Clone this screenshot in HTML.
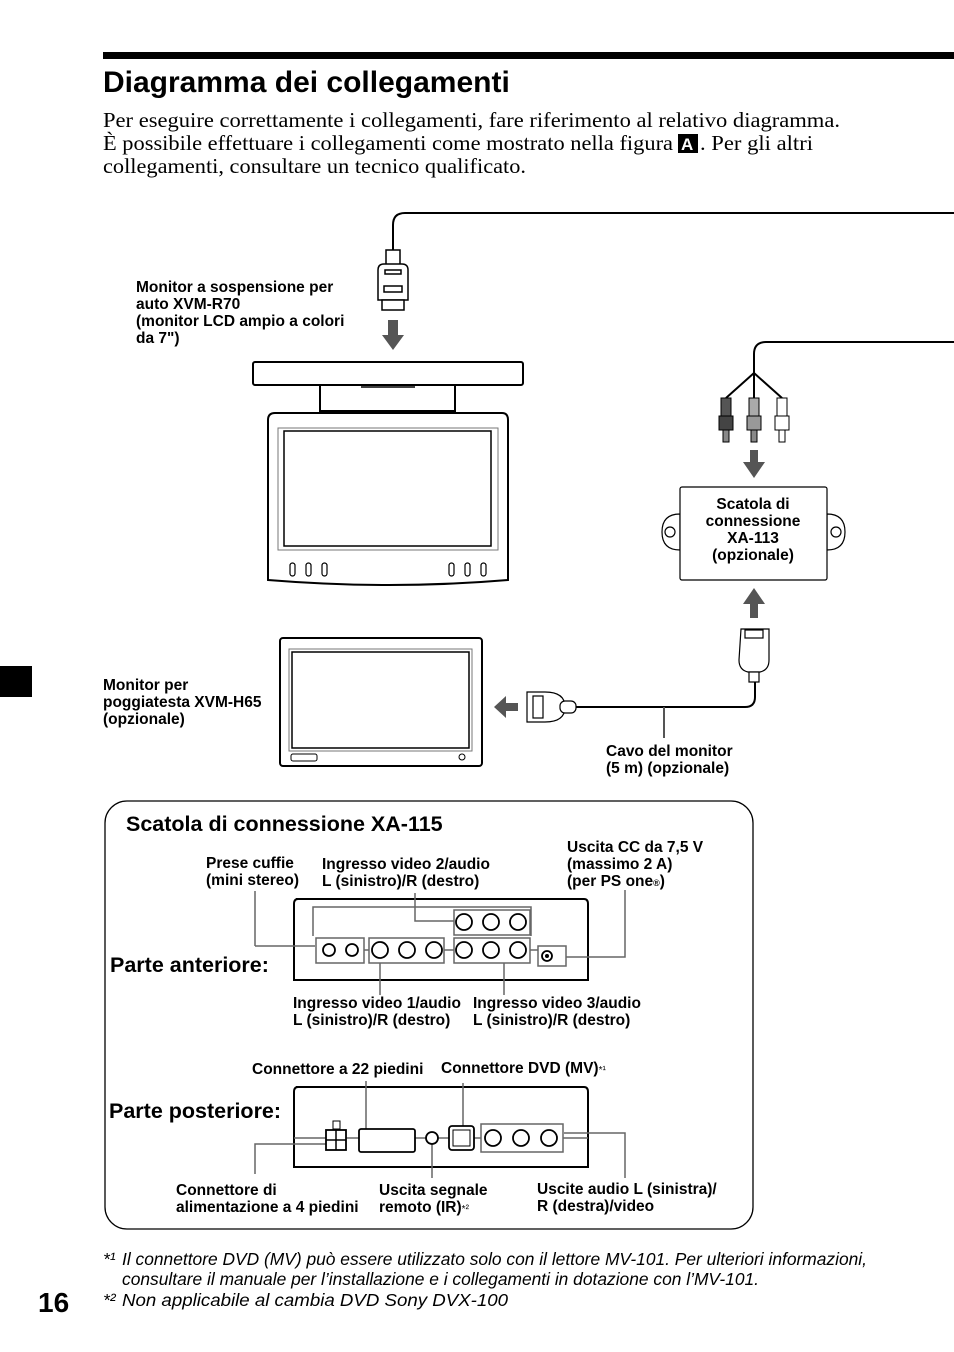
<!DOCTYPE html>
<html><head><meta charset="utf-8"><style>
html,body{margin:0;padding:0;background:#fff}
svg{display:block}
.b{font-family:"Liberation Sans",sans-serif;font-weight:bold;font-size:15.5px;fill:#000}
.h{font-family:"Liberation Sans",sans-serif;font-weight:bold;font-size:21.5px;fill:#000}
.s{font-family:"Liberation Serif",serif;font-size:21px;fill:#000}
.i{font-family:"Liberation Sans",sans-serif;font-style:italic;font-size:17.5px;fill:#000}
</style></head><body>
<svg width="954" height="1352" viewBox="0 0 954 1352" xmlns="http://www.w3.org/2000/svg">
<rect x="103" y="52" width="851" height="7" fill="#000"/>
<text x="103" y="92" font-family="Liberation Sans,sans-serif" font-weight="bold" font-size="30">Diagramma dei collegamenti</text>
<text class="s" x="103" y="127" textLength="737" lengthAdjust="spacingAndGlyphs">Per eseguire correttamente i collegamenti, fare riferimento al relativo diagramma.</text>
<text class="s" x="103" y="150" textLength="570" lengthAdjust="spacingAndGlyphs">È possibile effettuare i collegamenti come mostrato nella figura</text>
<rect x="678" y="134" width="20" height="19" fill="#000"/>
<text x="681" y="150" font-family="Liberation Sans,sans-serif" font-weight="bold" font-size="17" fill="#fff">A</text>
<text class="s" x="700" y="150" textLength="113" lengthAdjust="spacingAndGlyphs">. Per gli altri</text>
<text class="s" x="103" y="173" textLength="423" lengthAdjust="spacingAndGlyphs">collegamenti, consultare un tecnico qualificato.</text>
<rect x="0" y="666" width="32" height="31" fill="#000"/>

<g fill="none" stroke="#000" stroke-width="2">
<path d="M954 213 H405 Q393 213 393 225 V250"/>
<path d="M954 342 H766 Q754 342 754 354 V373"/>
<path d="M754 373 L726 398 M754 373 V398 M754 373 L782 398"/>
<path d="M575 707 H745 Q755 707 755 697 V672"/>
</g>
<line x1="664" y1="707" x2="664" y2="738" stroke="#555" stroke-width="2"/>

<g fill="#fff" stroke="#000" stroke-width="1.5">
<rect x="386" y="250" width="14" height="15"/>
<path d="M378 270 Q378 264 384 264 H402 Q408 264 408 270 V300 H378 Z"/>
<rect x="385" y="270" width="16" height="4"/>
<rect x="384" y="286" width="18" height="6"/>
<rect x="382" y="300" width="22" height="10"/>
</g>
<polygon points="388,320 398,320 398,335 404,335 393,350 382,335 388,335" fill="#555"/>

<g fill="#fff" stroke="#000" stroke-width="2">
<rect x="253" y="362" width="270" height="23" rx="2"/>
<rect x="320" y="385" width="135" height="26"/>
<path d="M268 420 Q268 413 275 413 H502 Q508 413 508 420 V580 Q390 590 268 580 Z"/>
</g>
<rect x="278" y="428" width="220" height="122" fill="none" stroke="#777" stroke-width="1"/>
<rect x="284" y="431" width="207" height="115" fill="none" stroke="#000" stroke-width="1.5"/>
<line x1="361" y1="387" x2="415" y2="387" stroke="#000" stroke-width="1.5"/>
<g fill="none" stroke="#000" stroke-width="1.2">
<rect x="290" y="563" width="5" height="13" rx="2.5"/><rect x="306" y="563" width="5" height="13" rx="2.5"/><rect x="322" y="563" width="5" height="13" rx="2.5"/>
<rect x="449" y="563" width="5" height="13" rx="2.5"/><rect x="465" y="563" width="5" height="13" rx="2.5"/><rect x="481" y="563" width="5" height="13" rx="2.5"/>
</g>
<text class="b"><tspan x="136" y="292">Monitor a sospensione per</tspan><tspan x="136" y="309">auto XVM-R70</tspan><tspan x="136" y="326">(monitor LCD ampio a colori</tspan><tspan x="136" y="343">da 7")</tspan></text>

<g stroke="#000" stroke-width="1">
<rect x="721" y="398" width="10" height="18" fill="#555"/><rect x="719" y="416" width="14" height="14" fill="#444"/><rect x="723" y="430" width="6" height="12" fill="#888"/>
<rect x="749" y="398" width="10" height="18" fill="#aaa"/><rect x="747" y="416" width="14" height="14" fill="#999"/><rect x="751" y="430" width="6" height="12" fill="#888"/>
<rect x="777" y="398" width="10" height="18" fill="#fff"/><rect x="775" y="416" width="14" height="14" fill="#fff"/><rect x="779" y="430" width="6" height="12" fill="#fff"/>
</g>
<polygon points="750,450 758,450 758,462 765,462 754,478 743,462 750,462" fill="#555"/>
<g fill="#fff" stroke="#000" stroke-width="1.2">
<path d="M680 514 Q662 514 662 532 Q662 550 680 550 Z"/>
<path d="M827 514 Q845 514 845 532 Q845 550 827 550 Z"/>
<circle cx="670" cy="532" r="5"/><circle cx="836" cy="532" r="5"/>
<rect x="680" y="487" width="147" height="93" rx="2"/>
</g>
<text class="b" text-anchor="middle"><tspan x="753" y="509">Scatola di</tspan><tspan x="753" y="526">connessione</tspan><tspan x="753" y="543">XA-113</tspan><tspan x="753" y="560">(opzionale)</tspan></text>
<polygon points="750,618 758,618 758,604 765,604 754,588 743,604 750,604" fill="#555"/>
<g fill="#fff" stroke="#000" stroke-width="1.2">
<path d="M741 629 H769 V660 Q769 670 760 672 H748 Q739 670 739 660 Z"/>
<rect x="745" y="630" width="18" height="8"/>
<rect x="749" y="672" width="10" height="10"/>
</g>
<g fill="#fff" stroke="#000" stroke-width="1.2">
<path d="M527 692 H545 Q565 692 565 707 Q565 722 545 722 H527 Z"/>
<rect x="533" y="696" width="10" height="22"/>
<rect x="560" y="701" width="16" height="12" rx="5"/>
</g>
<polygon points="518,703 518,711 506,711 506,718 494,707 506,696 506,703" fill="#555"/>

<rect x="280" y="638" width="202" height="128" rx="3" fill="#fff" stroke="#000" stroke-width="2"/>
<rect x="289" y="649" width="183" height="102" fill="none" stroke="#777" stroke-width="1"/>
<rect x="292" y="652" width="177" height="96" fill="none" stroke="#000" stroke-width="1.5"/>
<rect x="291" y="754" width="26" height="7" rx="2" fill="none" stroke="#000"/>
<circle cx="462" cy="757" r="3" fill="none" stroke="#000"/>
<text class="b"><tspan x="103" y="690">Monitor per</tspan><tspan x="103" y="707">poggiatesta XVM-H65</tspan><tspan x="103" y="724">(opzionale)</tspan></text>
<text class="b"><tspan x="606" y="756">Cavo del monitor</tspan><tspan x="606" y="773">(5 m) (opzionale)</tspan></text>

<rect x="105" y="801" width="648" height="428" rx="22" fill="none" stroke="#000" stroke-width="1.3"/>
<text class="h" x="126" y="831">Scatola di connessione XA-115</text>
<text class="b"><tspan x="206" y="868">Prese cuffie</tspan><tspan x="206" y="885">(mini stereo)</tspan></text>
<text class="b"><tspan x="322" y="869">Ingresso video 2/audio</tspan><tspan x="322" y="886">L (sinistro)/R (destro)</tspan></text>
<text class="b"><tspan x="567" y="852">Uscita CC da 7,5 V</tspan><tspan x="567" y="869">(massimo 2 A)</tspan><tspan x="567" y="886">(per PS one<tspan font-size="9">®</tspan>)</tspan></text>
<text class="h" x="110" y="972">Parte anteriore:</text>
<text class="b"><tspan x="293" y="1008">Ingresso video 1/audio</tspan><tspan x="293" y="1025">L (sinistro)/R (destro)</tspan></text>
<text class="b"><tspan x="473" y="1008">Ingresso video 3/audio</tspan><tspan x="473" y="1025">L (sinistro)/R (destro)</tspan></text>

<path d="M296 899 H584 Q588 899 588 904 V980 H294 V904 Q294 899 298 899 Z" fill="#fff" stroke="#000" stroke-width="2"/>
<g fill="none" stroke="#666" stroke-width="1.5">
<path d="M313 936 V907 H531 V936"/>
<line x1="255" y1="946" x2="315" y2="946"/>
<rect x="316" y="938" width="48" height="25"/>
<rect x="369" y="938" width="75" height="25"/>
<rect x="454" y="938" width="76" height="25"/>
<rect x="454" y="910" width="76" height="25"/>
<rect x="538" y="946" width="28" height="20"/>
<line x1="364" y1="950" x2="369" y2="950"/><line x1="444" y1="950" x2="454" y2="950"/><line x1="530" y1="950" x2="538" y2="950"/>
<path d="M255 891 V946"/>
<path d="M415 893 V921 H454"/>
<path d="M566 957 H625 V890"/>
<line x1="380" y1="963" x2="380" y2="995"/>
<line x1="504" y1="963" x2="504" y2="995"/>
</g>
<g fill="#fff" stroke="#000" stroke-width="1.8">
<circle cx="329" cy="950" r="6"/><circle cx="352" cy="950" r="6"/>
<circle cx="380" cy="950" r="8"/><circle cx="407" cy="950" r="8"/><circle cx="434" cy="950" r="8"/>
<circle cx="464" cy="950" r="8"/><circle cx="491" cy="950" r="8"/><circle cx="518" cy="950" r="8"/>
<circle cx="464" cy="922" r="8"/><circle cx="491" cy="922" r="8"/><circle cx="518" cy="922" r="8"/>
<circle cx="547" cy="956" r="5"/>
</g>
<circle cx="547" cy="956" r="2" fill="#000"/>

<text class="b" x="252" y="1074">Connettore a 22 piedini</text>
<text class="b" x="441" y="1073">Connettore DVD (MV)<tspan font-size="10" font-weight="normal">*¹</tspan></text>
<text class="h" x="109" y="1118">Parte posteriore:</text>
<path d="M296 1087 H584 Q588 1087 588 1092 V1167 H294 V1092 Q294 1087 298 1087 Z" fill="#fff" stroke="#000" stroke-width="2"/>
<g fill="none" stroke="#666" stroke-width="1.5">
<line x1="294" y1="1138" x2="588" y2="1138"/>
<path d="M255 1174 V1144 H326"/>
<path d="M366 1134 V1081"/>
<path d="M463 1133 V1083"/>
<path d="M432 1142 V1178"/>
<path d="M564 1133 H625 V1178"/>
<rect x="481" y="1124" width="82" height="28" fill="#fff"/>
</g>
<g fill="#fff" stroke="#000" stroke-width="1.8">
<rect x="326" y="1130" width="20" height="20"/>
<rect x="359" y="1129" width="56" height="23" rx="2"/>
<circle cx="432" cy="1138" r="6"/>
<rect x="449" y="1126" width="25" height="24" rx="3"/>
<circle cx="493" cy="1138" r="8"/><circle cx="521" cy="1138" r="8"/><circle cx="549" cy="1138" r="8"/>
</g>
<rect x="333" y="1121" width="7" height="8" fill="#fff" stroke="#000"/>
<path d="M336 1130 V1150 M326 1140 H346" stroke="#000" stroke-width="1.5"/>
<rect x="453" y="1130" width="17" height="16" fill="none" stroke="#000"/>
<text class="b"><tspan x="176" y="1195">Connettore di</tspan><tspan x="176" y="1212">alimentazione a 4 piedini</tspan></text>
<text class="b"><tspan x="379" y="1195">Uscita segnale</tspan><tspan x="379" y="1212">remoto (IR)<tspan font-size="10" font-weight="normal">*²</tspan></tspan></text>
<text class="b"><tspan x="537" y="1194">Uscite audio L (sinistra)/</tspan><tspan x="537" y="1211">R (destra)/video</tspan></text>

<text class="i" x="103" y="1265" font-size="11">*¹</text>
<text class="i" x="122" y="1265" textLength="745" lengthAdjust="spacingAndGlyphs">Il connettore DVD (MV) può essere utilizzato solo con il lettore MV-101. Per ulteriori informazioni,</text>
<text class="i" x="122" y="1285" textLength="637" lengthAdjust="spacingAndGlyphs">consultare il manuale per l’installazione e i collegamenti in dotazione con l’MV-101.</text>
<text class="i" x="103" y="1306" font-size="11">*²</text>
<text class="i" x="122" y="1306" textLength="386" lengthAdjust="spacingAndGlyphs">Non applicabile al cambia DVD Sony DVX-100</text>
<text x="38" y="1312" font-family="Liberation Sans,sans-serif" font-weight="bold" font-size="28">16</text>
</svg>
</body></html>
